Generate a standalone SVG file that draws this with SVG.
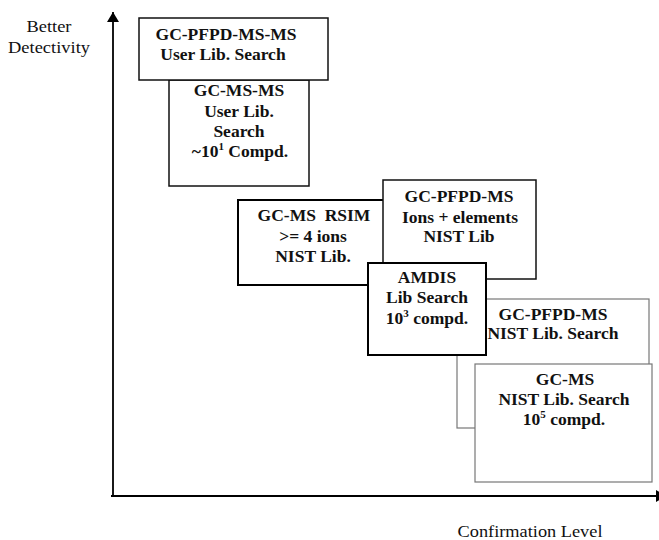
<svg xmlns="http://www.w3.org/2000/svg" width="659" height="540" viewBox="0 0 659 540">
<style>
.box{fill:#fff;stroke:#111;stroke-width:1.5}
.heavy{stroke:#000;stroke-width:2}
.light{stroke:#777;stroke-width:1.2}
.t{font-family:"Liberation Serif","Times New Roman",serif;font-weight:bold;font-size:17.5px;fill:#111;text-anchor:middle}
.ax{font-family:"Liberation Serif","Times New Roman",serif;font-size:16.5px;fill:#111;text-anchor:middle}
.sup{font-size:11px}
.axis{stroke:#000;stroke-width:1.8;fill:none}
</style>
<defs>
<marker id="arr" markerWidth="10" markerHeight="12" refX="10" refY="6" orient="auto" markerUnits="userSpaceOnUse">
<path d="M0,0 L10,6 L0,12 Z" fill="#000"/>
</marker>
</defs>
<g id="connectors">
<line class="axis" x1="113" y1="497" x2="113" y2="12" marker-end="url(#arr)"/>
<line class="axis" x1="111" y1="496" x2="666" y2="496" marker-end="url(#arr)"/>
</g>
<g id="axis-labels">
<text class="ax" x="49" y="32" textLength="45" lengthAdjust="spacingAndGlyphs">Better</text>
<text class="ax" x="49" y="53" textLength="82" lengthAdjust="spacingAndGlyphs">Detectivity</text>
<text class="ax" x="530" y="537" textLength="145" lengthAdjust="spacingAndGlyphs">Confirmation Level</text>
</g>
<g id="gc-ms-ms">
<rect class="box" x="169" y="80" width="140" height="106"/>
<text class="t" x="239" y="96">GC-MS-MS</text>
<text class="t" x="239" y="117">User Lib.</text>
<text class="t" x="239" y="137">Search</text>
<text class="t" x="240" y="157">~10<tspan class="sup" dy="-7">1</tspan><tspan dy="7"> Compd.</tspan></text>
</g>
<g id="gc-pfpd-ms-ms">
<rect class="box" x="139" y="18" width="189" height="62"/>
<text class="t" x="226" y="40">GC-PFPD-MS-MS</text>
<text class="t" x="223" y="60">User Lib. Search</text>
</g>
<g id="gc-ms-rsim">
<rect class="box heavy" x="238" y="200" width="150" height="85"/>
<text class="t" x="314" y="221" xml:space="preserve">GC-MS  RSIM</text>
<text class="t" x="313" y="242">&gt;= 4 ions</text>
<text class="t" x="313" y="262">NIST Lib.</text>
</g>
<g id="gc-pfpd-ms-ions">
<rect class="box" x="383" y="180" width="153" height="99"/>
<text class="t" x="459" y="202">GC-PFPD-MS</text>
<text class="t" x="460" y="223">Ions + elements</text>
<text class="t" x="459" y="242">NIST Lib</text>
</g>
<g id="gc-pfpd-ms-nist">
<rect class="box light" x="457" y="299" width="192" height="129"/>
<text class="t" x="553" y="320">GC-PFPD-MS</text>
<text class="t" x="553" y="339">NIST Lib. Search</text>
</g>
<g id="amdis">
<rect class="box heavy" x="368" y="263" width="118" height="92"/>
<text class="t" x="427" y="283">AMDIS</text>
<text class="t" x="427" y="303">Lib Search</text>
<text class="t" x="427" y="324">10<tspan class="sup" dy="-7">3</tspan><tspan dy="7"> compd.</tspan></text>
</g>
<g id="gc-ms">
<rect class="box light" x="475" y="364" width="177" height="118"/>
<text class="t" x="565" y="385">GC-MS</text>
<text class="t" x="564" y="405">NIST Lib. Search</text>
<text class="t" x="564" y="425">10<tspan class="sup" dy="-7">5</tspan><tspan dy="7"> compd.</tspan></text>
</g>
</svg>
